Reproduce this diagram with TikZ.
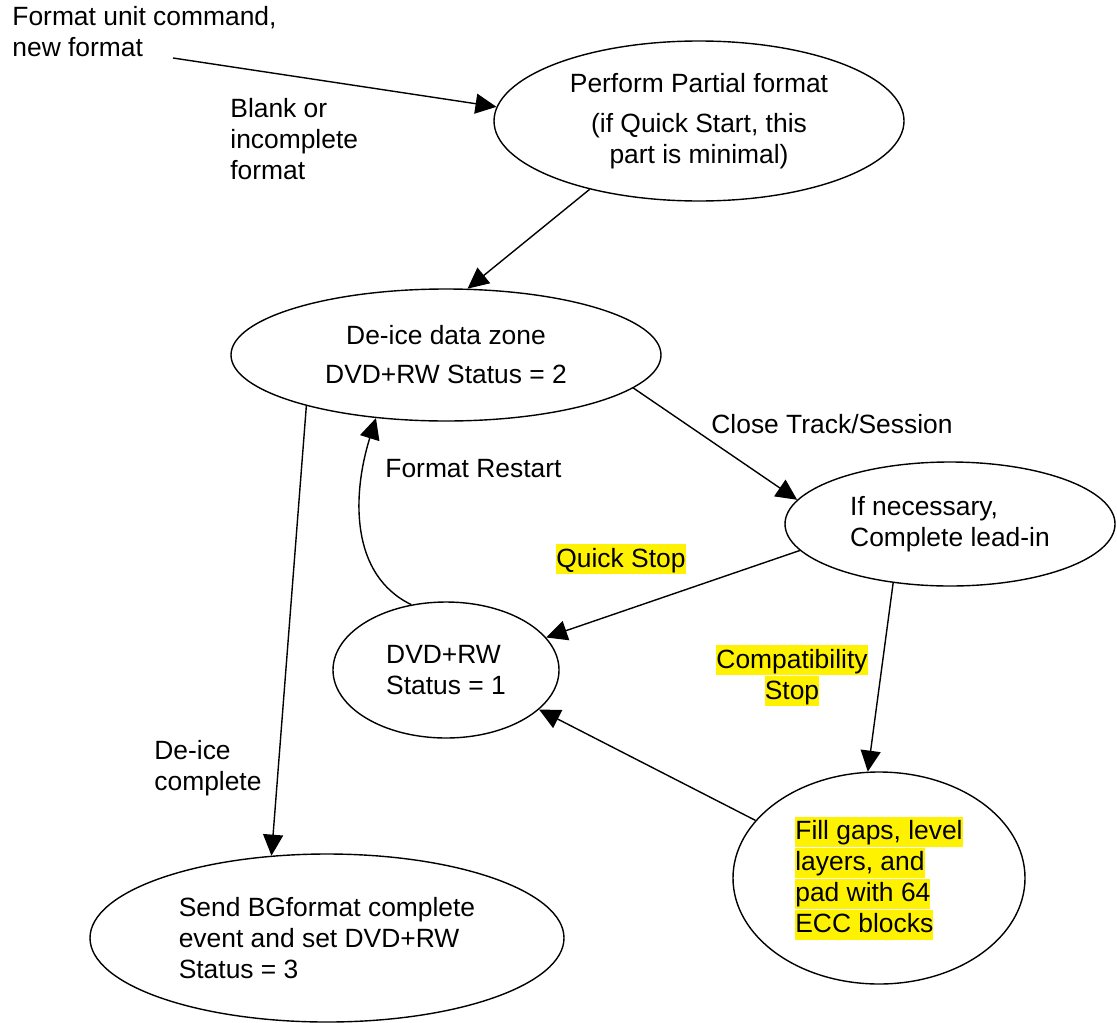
\documentclass[tikz,border=0pt]{standalone}
\usepackage{fontspec}
\setmainfont{Liberation Sans}
\usetikzlibrary{shapes, arrows.meta}
\tikzstyle{state}=[ellipse, draw, line width=0.7pt, inner sep=0pt]
\tikzstyle{arr}=[-{Triangle[length=10.5pt,width=10pt]}, line width=0.7pt]
\tikzstyle{lbl}=[anchor=base west, align=left, inner sep=0pt]
\newcommand{\marked}[1]{{\setlength{\fboxsep}{0pt}\colorbox{yellow}{\rule[-3.5pt]{0pt}{15pt}#1}}}

\begin{document}
\begin{tikzpicture}[x=0.5pt, y=-0.5pt, every node/.style={font=\fontsize{13.2}{15.5}\selectfont}]
	\useasboundingbox (0,0) rectangle (1117,1022);

	% states
	\node[state, minimum width=205pt, minimum height=80pt, align=center] (perform) at (699,121) {Perform Partial format\\[4.5pt](if Quick Start, this\\part is minimal)};
	\node[state, minimum width=215pt, minimum height=66pt, align=center] (deice) at (446,355) {De-ice data zone\\[4pt]DVD+RW Status = 2};
	\node[state, minimum width=165pt, minimum height=62pt, align=left] (lead) at (950,524) {If necessary,\\Complete lead-in};
	\node[state, minimum width=113pt, minimum height=68pt, align=left] (st1) at (446,670) {DVD+RW\\Status = 1};
	\node[state, minimum width=146pt, minimum height=106pt, align=left] (fill) at (879,878) {\marked{Fill gaps, level}\\\marked{layers, and}\\\marked{pad with 64}\\\marked{ECC blocks}};
	\node[state, minimum width=237pt, minimum height=84pt, align=left] (send) at (327,938) {Send BGformat complete\\event and set DVD+RW\\Status = 3};

	% labels (base = last line)
	\node[lbl] (cmd) at (12,57) {Format unit command,\\new format};
	\coordinate (cmdend) at (173,58);
	\node[lbl] (blank) at (230,179) {Blank or\\incomplete\\format};
	\node[lbl] (close) at (711,433) {Close Track/Session};
	\node[lbl] (restart) at (385,477) {Format Restart};
	\node[lbl] (quick) at (556,567) {\marked{Quick Stop}};
	\node[lbl, anchor=base, align=center] (compat) at (792,699) {\marked{Compatibility}\\\marked{Stop}};
	\node[lbl] (done) at (154,790) {De-ice\\complete};

	\draw[arr] (cmdend) -- (perform.176);
	\foreach \a / \b in {perform.212/deice.72, deice.350/lead.171, lead.190/st1.18, lead.226/fill.96, fill.155/st1.337, deice.200/send.124}
	\path (\a) edge[arr] (\b);
	\draw[arr] (st1.118) .. controls (350,575) and (352,495) .. (deice.222);

\end{tikzpicture}
\end{document}
